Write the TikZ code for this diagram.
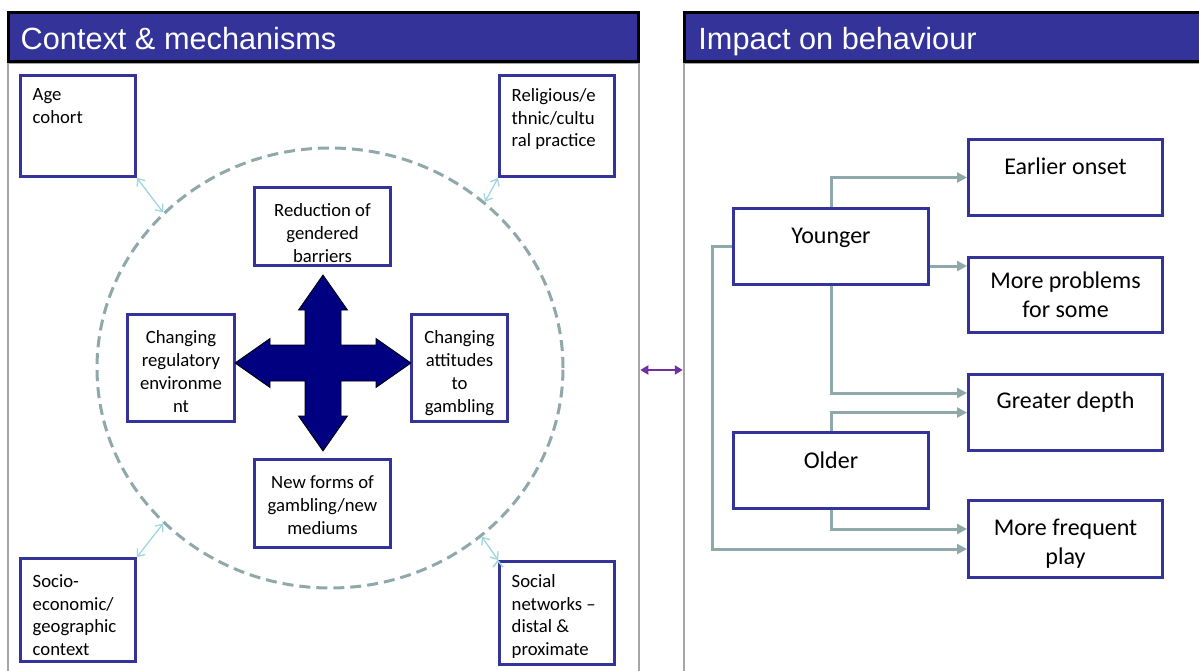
\documentclass[tikz,border=0pt]{standalone}
\usepackage{fontspec}
\setmainfont{Carlito}
\newfontfamily\headfont{Liberation Sans}
\usetikzlibrary{arrows.meta,shapes.geometric}
\definecolor{boxblue}{RGB}{51,51,153}
\definecolor{navyfill}{RGB}{0,0,128}
\definecolor{linkgrey}{RGB}{143,168,170}
\definecolor{panelgrey}{RGB}{166,166,166}
\definecolor{lightlink}{RGB}{160,214,222}
\definecolor{linkpurple}{RGB}{112,48,160}

\begin{document}
\begin{tikzpicture}[x=1pt,y=-1pt,
  panel node/.style={rectangle,draw=panelgrey,line width=2.5pt,inner sep=0pt,minimum height=614pt},
  head node/.style={rectangle,draw=black,fill=boxblue,line width=3pt,inner sep=0pt,minimum height=49pt},
  head text/.style={anchor=base west,inner sep=0pt,text=white,font=\headfont\fontsize{30.7}{36}\selectfont},
  box node/.style={rectangle,draw=boxblue,fill=white,line width=3pt,inner sep=0pt},
  small text/.style={anchor=north west,inner sep=0pt,align=left,font=\fontsize{18.7}{22.6}\selectfont,execute at begin node=\strut},
  mid text/.style={anchor=north,inner sep=0pt,align=center,font=\fontsize{18.7}{22.8}\selectfont,execute at begin node=\strut},
  big text/.style={anchor=north,inner sep=0pt,align=center,font=\fontsize{24}{29}\selectfont,execute at begin node=\strut},
  link/.style={draw=linkgrey,line width=3pt,-{Triangle[length=10pt,width=10pt]}},
  thin link/.style={draw=lightlink,line width=1.3pt,{Straight Barb[length=6pt,width=10pt]}-{Straight Barb[length=6pt,width=10pt]}}]

  \useasboundingbox[fill=white] (0,0) rectangle (1199,671);

  \node[panel node,minimum width=631pt] (1) at (323.5,370) {};
  \node[panel node,minimum width=531pt] (2) at (949.5,370) {};
  \node[head node,minimum width=630pt] (3) at (323.5,37) {};
  \node[head node,minimum width=531pt] (4) at (949.75,37) {};
  \node[head text] (3t) at ([xshift=13.5pt,yshift=-13pt]3.west) {Context \& mechanisms};
  \node[head text] (4t) at ([xshift=15.5pt,yshift=-13pt]4.west) {Impact on behaviour};

  \node[ellipse,draw=linkgrey,line width=3pt,dash pattern=on 11pt off 6pt,inner sep=0pt,
    minimum width=466pt,minimum height=440pt] (5) at (330,368) {};

  \node[box node,minimum width=115pt,minimum height=101pt] (6) at (78,126) {};
  \node[box node,minimum width=115pt,minimum height=101pt] (7) at (557,126) {};
  \node[box node,minimum width=115pt,minimum height=103pt] (8) at (78,610) {};
  \node[box node,minimum width=115pt,minimum height=103pt] (9) at (557,613) {};
  \node[small text] (6t) at ([xshift=13.5pt,yshift=-14.4pt]6.north west) {Age\\cohort};
  \node[small text] (7t) at ([xshift=13.5pt,yshift=-14.4pt]7.north west) {Religious/e\\thnic/cultu\\ral practice};
  \node[small text] (8t) at ([xshift=13.5pt,yshift=-17.5pt]8.north west) {Socio-\\economic/\\geographic\\context};
  \node[small text] (9t) at ([xshift=13.5pt,yshift=-14.6pt]9.north west) {Social\\networks --\\distal \&\\proximate};

  \node[box node,minimum width=136pt,minimum height=78pt] (10) at (322.5,226.5) {};
  \node[box node,minimum width=107pt,minimum height=107pt] (11) at (181,368) {};
  \node[box node,minimum width=96pt,minimum height=107pt] (12) at (459.5,368) {};
  \node[box node,minimum width=136pt,minimum height=88pt] (13) at (322.5,503.5) {};
  \node[mid text] (10t) at ([yshift=-17.5pt]10.north) {Reduction of\\gendered\\barriers};
  \node[mid text] (11t) at ([yshift=-17.5pt]11.north) {Changing\\regulatory\\environme\\nt};
  \node[mid text] (12t) at ([yshift=-17.5pt]12.north) {Changing\\attitudes\\to\\gambling};
  \node[mid text] (13t) at ([yshift=-17.5pt]13.north) {New forms of\\gambling/new\\mediums};

  \coordinate (20) at (323,363);
  \draw[fill=navyfill,draw=black,line width=0.8pt,shift={(20)}]
    (0,-88) -- (24.5,-53) -- (18,-53) -- (18,-18) -- (53,-18) -- (53,-24.5) --
    (88,0) -- (53,24.5) -- (53,18) -- (18,18) -- (18,53) -- (24.5,53) --
    (0,88) -- (-24.5,53) -- (-18,53) -- (-18,18) -- (-53,18) -- (-53,24.5) --
    (-88,0) -- (-53,-24.5) -- (-53,-18) -- (-18,-18) -- (-18,-53) -- (-24.5,-53) -- cycle;

  \node[box node,minimum width=195pt,minimum height=76pt] (14) at (831,246.5) {};
  \node[box node,minimum width=195pt,minimum height=76pt] (15) at (831,470.5) {};
  \node[box node,minimum width=194pt,minimum height=76pt] (16) at (1065.5,177.5) {};
  \node[box node,minimum width=194pt,minimum height=75pt] (17) at (1065.5,295) {};
  \node[box node,minimum width=194pt,minimum height=76pt] (18) at (1065.5,412.5) {};
  \node[box node,minimum width=194pt,minimum height=77pt] (19) at (1065.5,539) {};
  \node[big text] (14t) at ([yshift=-16pt]14.north) {Younger};
  \node[big text] (15t) at ([yshift=-16.5pt]15.north) {Older};
  \node[big text] (16t) at ([yshift=-16.5pt]16.north) {Earlier onset};
  \node[big text] (17t) at ([yshift=-15.5pt]17.north) {More problems\\for some};
  \node[big text] (18t) at ([yshift=-15pt]18.north) {Greater depth};
  \node[big text] (19t) at ([yshift=-19.5pt]19.north) {More frequent\\play};

  \path[thin link]
    (6.south east) edge (5.137)
    (7.south west) edge (5.47)
    (8.north east) edge (5.223)
    (9.north west) edge (5.312);

  \draw[draw=linkpurple,line width=2.5pt,{Triangle[length=8pt,width=9pt]}-{Triangle[length=8pt,width=9pt]}] (1.east) -- (2.west);

  \draw[link] (14.north) |- (16.west);
  \draw[link] ([yshift=-19.5pt]14.east) -- ([yshift=-19.5pt]14.east -| 17.west);
  \draw[link] (14.south) |- ([yshift=19.5pt]18.west);
  \draw[link] (15.north) |- (18.west);
  \draw[link] (15.south) |- ([yshift=10pt]19.west);
  \draw[link] (14.west) -- ++(-20,0) |- ([yshift=-10pt]19.west);
\end{tikzpicture}
\end{document}
